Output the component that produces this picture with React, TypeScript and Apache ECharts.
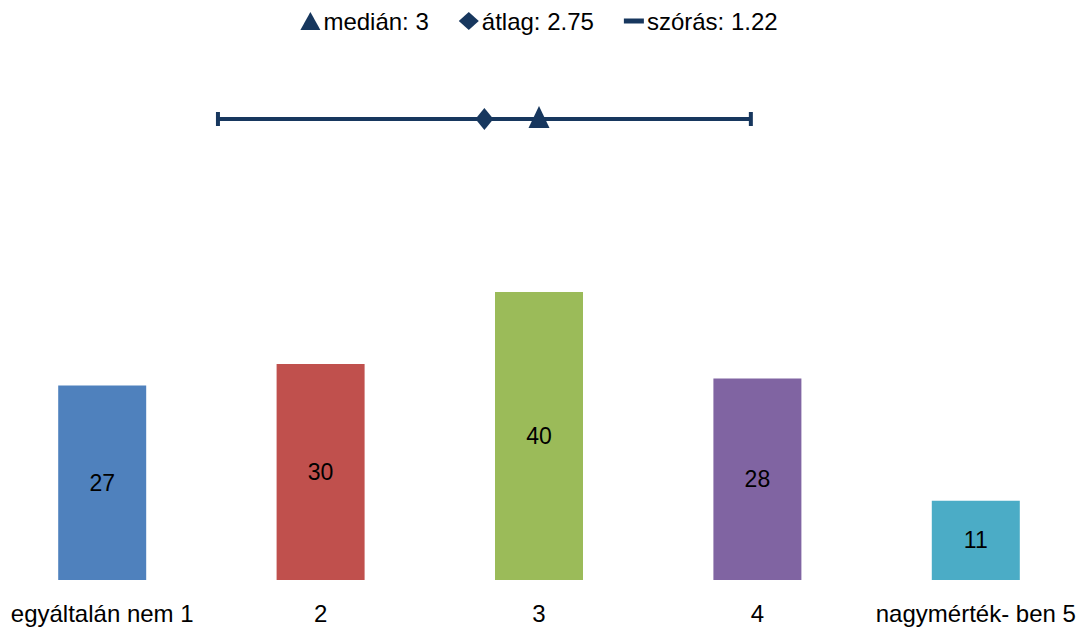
import React, { useEffect, useRef } from "react";
import * as echarts from "echarts";

const categories = ["egyáltalán nem 1", "2", "3", "4", "nagymérték- ben 5"];
const counts = [27, 30, 40, 28, 11];
const barColors = ["#4F81BD", "#C0504D", "#9BBB59", "#8064A2", "#4BACC6"];
const median = 3;
const mean = 2.75;
const sd = 1.22;
const navy = "#17375E";
const font = "'Liberation Sans', Arial, sans-serif";

export default function App() {
  const ref = useRef<HTMLDivElement>(null);
  useEffect(() => {
    if (!ref.current) return;
    const chart = echarts.init(ref.current, null, { renderer: "svg" });
    const medLabel = `medián: ${median}`;
    const meanLabel = `átlag: ${mean}`;
    const sdLabel = `szórás: ${sd}`;
    chart.setOption({
      animation: false,
      textStyle: { fontFamily: font },
      legend: {
        top: 4,
        left: "center",
        itemWidth: 20,
        itemHeight: 18,
        itemGap: 30,
        textStyle: { fontSize: 24, color: "#000", fontFamily: font, padding: [0, 0, 0, -2] },
        data: [
          { name: medLabel, icon: "triangle" },
          { name: meanLabel, icon: "diamond" },
          { name: sdLabel, icon: "path://M0,0h20v5h-20z" },
        ],
      },
      grid: [
        { left: 0, right: 0, top: 220, height: 360 },
        { left: 0, right: 0, top: 100, height: 38 },
      ],
      xAxis: [
        {
          type: "category",
          gridIndex: 0,
          data: categories,
          axisLine: { show: false },
          axisTick: { show: false },
          axisLabel: { fontSize: 24, color: "#000", margin: 21, fontFamily: font, interval: 0 },
        },
        { type: "value", gridIndex: 1, min: 0.5, max: 5.5, show: false },
      ],
      yAxis: [
        { type: "value", gridIndex: 0, min: 0, max: 50, show: false },
        { type: "value", gridIndex: 1, min: -1, max: 1, show: false },
      ],
      series: [
        {
          type: "bar",
          xAxisIndex: 0,
          yAxisIndex: 0,
          barWidth: 88,
          data: counts.map((v, i) => ({ value: v, itemStyle: { color: barColors[i] } })),
          label: { show: true, position: "inside", fontSize: 23, color: "#000", fontFamily: font },
        },
        {
          name: sdLabel,
          type: "line",
          xAxisIndex: 1,
          yAxisIndex: 1,
          symbol: "rect",
          symbolSize: [4, 14],
          symbolKeepAspect: true,
          lineStyle: { color: navy, width: 4 },
          itemStyle: { color: navy, opacity: 1 },
          data: [
            [mean - sd, 0],
            [mean + sd, 0],
          ],
          z: 2,
        },
        {
          name: meanLabel,
          type: "scatter",
          xAxisIndex: 1,
          yAxisIndex: 1,
          symbol: "diamond",
          symbolSize: [18, 22],
          itemStyle: { color: navy, opacity: 1 },
          data: [[mean, 0]],
          z: 3,
        },
        {
          name: medLabel,
          type: "scatter",
          xAxisIndex: 1,
          yAxisIndex: 1,
          symbol: "triangle",
          symbolSize: [21, 22],
          symbolOffset: [0, -2],
          itemStyle: { color: navy, opacity: 1 },
          data: [[median, 0]],
          z: 3,
        },
      ],
    });
    return () => chart.dispose();
  }, []);
  return (
    <div
      ref={ref}
      style={{ position: "absolute", left: -7, top: 0, width: 1092, height: 630, background: "#fff" }}
    />
  );
}
